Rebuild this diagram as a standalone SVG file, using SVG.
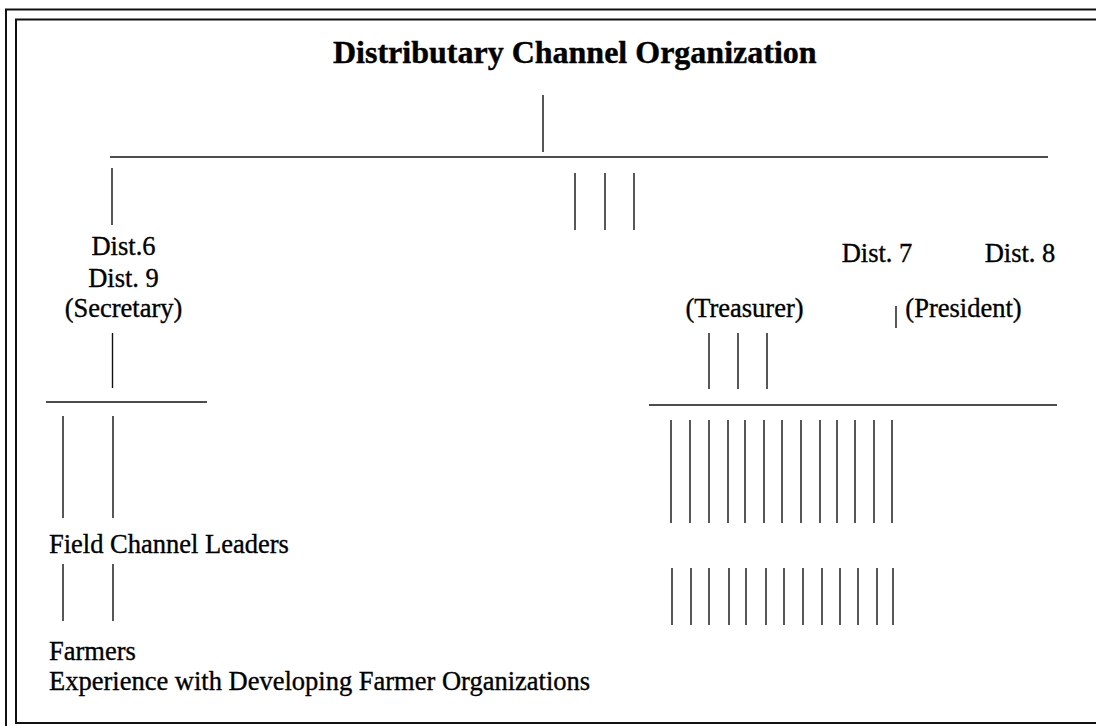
<svg xmlns="http://www.w3.org/2000/svg" width="1096" height="726" viewBox="0 0 1096 726">
  <style>
    .bg { fill: #ffffff; }
    .frame { fill: none; stroke: #111; stroke-width: 2; }
    .ln { stroke: #111; stroke-width: 1.4; fill: none; }
    text { font-family: 'Liberation Serif', 'Times New Roman', Times, serif; fill: #000; stroke: #000; stroke-width: 0.35; }
    .lbl { font-size: 26.5px; }
    .mid { text-anchor: middle; }
    .title { font-size: 32px; font-weight: bold; stroke-width: 0.4; }
  </style>

  <rect class="bg" x="0" y="0" width="1096" height="726"/>

  <!-- double page frame -->
  <g id="frame">
    <path class="frame" d="M6,726 V9.5 H1096"/>
    <path class="frame" d="M1096,723 H16 V19.5 H1096"/>
  </g>

  <g id="title">
    <text class="title" x="333" y="63">Distributary Channel Organization</text>
  </g>

  <!-- connector lines of the chart -->
  <g id="connectors">
    <!-- trunk and main bar -->
    <line class="ln" x1="543" y1="95" x2="543" y2="152"/>
    <line class="ln" x1="110" y1="157" x2="1048" y2="157"/>
    <!-- drops from main bar -->
    <line class="ln" x1="112" y1="168" x2="112" y2="225"/>
    <line class="ln" x1="575" y1="173" x2="575" y2="230"/>
    <line class="ln" x1="605" y1="173" x2="605" y2="230"/>
    <line class="ln" x1="634" y1="173" x2="634" y2="230"/>

    <!-- left branch -->
    <line class="ln" x1="112.5" y1="333" x2="112.5" y2="388"/>
    <line class="ln" x1="46" y1="402" x2="207" y2="402"/>
    <line class="ln" x1="63" y1="416" x2="63" y2="518"/>
    <line class="ln" x1="113" y1="416" x2="113" y2="518"/>
    <line class="ln" x1="63" y1="564" x2="63" y2="621"/>
    <line class="ln" x1="113" y1="564" x2="113" y2="621"/>

    <!-- right branch -->
    <line class="ln" x1="896" y1="306" x2="896" y2="328"/>
    <line class="ln" x1="709" y1="333" x2="709" y2="389"/>
    <line class="ln" x1="738" y1="333" x2="738" y2="389"/>
    <line class="ln" x1="767" y1="333" x2="767" y2="389"/>
    <line class="ln" x1="649" y1="405" x2="1057" y2="405"/>

    <!-- field channel leader drops -->
    <line class="ln" x1="671" y1="420" x2="671" y2="523"/>
    <line class="ln" x1="690" y1="420" x2="690" y2="523"/>
    <line class="ln" x1="709" y1="420" x2="709" y2="523"/>
    <line class="ln" x1="728" y1="420" x2="728" y2="523"/>
    <line class="ln" x1="745" y1="420" x2="745" y2="523"/>
    <line class="ln" x1="764" y1="420" x2="764" y2="523"/>
    <line class="ln" x1="782" y1="420" x2="782" y2="523"/>
    <line class="ln" x1="801" y1="420" x2="801" y2="523"/>
    <line class="ln" x1="820" y1="420" x2="820" y2="523"/>
    <line class="ln" x1="837" y1="420" x2="837" y2="523"/>
    <line class="ln" x1="855" y1="420" x2="855" y2="523"/>
    <line class="ln" x1="874" y1="420" x2="874" y2="523"/>
    <line class="ln" x1="892" y1="420" x2="892" y2="523"/>

    <!-- farmer drops -->
    <line class="ln" x1="672" y1="568" x2="672" y2="625"/>
    <line class="ln" x1="691" y1="568" x2="691" y2="625"/>
    <line class="ln" x1="709" y1="568" x2="709" y2="625"/>
    <line class="ln" x1="729" y1="568" x2="729" y2="625"/>
    <line class="ln" x1="746" y1="568" x2="746" y2="625"/>
    <line class="ln" x1="766" y1="568" x2="766" y2="625"/>
    <line class="ln" x1="784" y1="568" x2="784" y2="625"/>
    <line class="ln" x1="803" y1="568" x2="803" y2="625"/>
    <line class="ln" x1="822" y1="568" x2="822" y2="625"/>
    <line class="ln" x1="840" y1="568" x2="840" y2="625"/>
    <line class="ln" x1="858" y1="568" x2="858" y2="625"/>
    <line class="ln" x1="877" y1="568" x2="877" y2="625"/>
    <line class="ln" x1="893" y1="568" x2="893" y2="625"/>
  </g>

  <g id="secretary">
    <text class="lbl mid" x="123.5" y="255">Dist.6</text>
    <text class="lbl mid" x="123.5" y="287">Dist. 9</text>
    <text class="lbl mid" x="123.5" y="317">(Secretary)</text>
  </g>

  <g id="dist7">
    <text class="lbl mid" x="877" y="262">Dist. 7</text>
  </g>

  <g id="dist8">
    <text class="lbl mid" x="1020" y="262">Dist. 8</text>
  </g>

  <g id="treasurer">
    <text class="lbl mid" x="744.5" y="317">(Treasurer)</text>
  </g>

  <g id="president">
    <text class="lbl mid" x="963.5" y="317">(President)</text>
  </g>

  <g id="field-leaders">
    <text class="lbl" x="49" y="553">Field Channel Leaders</text>
  </g>

  <g id="farmers">
    <text class="lbl" x="49" y="660">Farmers</text>
  </g>

  <g id="caption">
    <text class="lbl" x="49" y="690">Experience with Developing Farmer Organizations</text>
  </g>
</svg>
